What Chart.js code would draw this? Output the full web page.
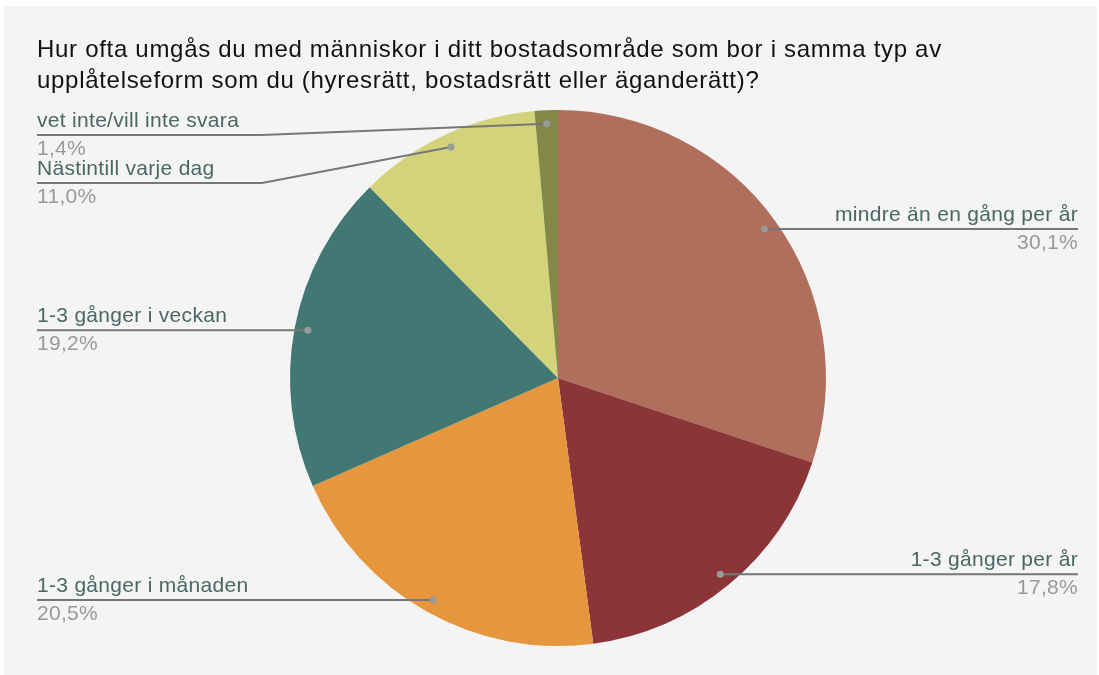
<!DOCTYPE html>
<html lang="sv">
<head>
<meta charset="utf-8">
<script src="https://cdn.jsdelivr.net/npm/chart.js@4/dist/chart.umd.min.js"></script>
<style>
    html, body { margin: 0; padding: 0; background: #ffffff; }
    #panel {
        position: absolute; left: 4px; top: 6px; width: 1093px; height: 669px;
        background: #f4f4f4;
    }
    #wrap { position: absolute; left: 0; top: 0; width: 1099px; height: 675px; }
</style>
</head>
<body>
<div id="panel"></div>
<div id="wrap"><canvas id="pieChart" width="1099" height="675"></canvas></div>
<script>
// Daten
const titleLines = [
    'Hur ofta umgås du med människor i ditt bostadsområde som bor i samma typ av',
    'upplåtelseform som du (hyresrätt, bostadsrätt eller äganderätt)?'
];
const categories = [
    'mindre än en gång per år',
    '1-3 gånger per år',
    '1-3 gånger i månaden',
    '1-3 gånger i veckan',
    'Nästintill varje dag',
    'vet inte/vill inte svara'
];
const shares = [30.1, 17.8, 20.5, 19.2, 11.0, 1.4];
const sliceColors = ['#af6f5c', '#8b3538', '#e6973d', '#417873', '#d2d37b', '#848846'];

// Label-Position: Linienhöhe nur dort, wo sie vom Punkt abweicht
const labelLineY = [null, null, null, null, 183, 135];

// Labels mit Führungslinien
const labelPlugin = {
    id: 'pieLabels',
    afterDraw(chart) {
        const ctx = chart.ctx;
        const meta = chart.getDatasetMeta(0);

        // Titel
        ctx.save();
        ctx.fillStyle = '#111111';
        ctx.font = '24px "Liberation Sans", Arial, sans-serif';
        ctx.letterSpacing = '0.7px';
        ctx.textBaseline = 'alphabetic';
        ctx.textAlign = 'left';
        ctx.fillText(titleLines[0], 37, 57);
        ctx.fillText(titleLines[1], 37, 88);

        meta.data.forEach((arc, i) => {
            const p = arc.getProps(['x', 'y', 'startAngle', 'endAngle', 'outerRadius'], true);
            const mid = (p.startAngle + p.endAngle) / 2;
            const r = p.outerRadius * 0.95;
            const dx = p.x + Math.cos(mid) * r;
            const dy = p.y + Math.sin(mid) * r;
            const right = dx > p.x;
            const lineY = labelLineY[i] !== null ? labelLineY[i] : dy;
            const edgeX = right ? 1078 : 37;

            // Linie
            ctx.strokeStyle = '#777777';
            ctx.lineWidth = 2;
            ctx.beginPath();
            ctx.moveTo(dx, dy);
            if (labelLineY[i] !== null) {
                ctx.lineTo(262, lineY);
            }
            ctx.lineTo(edgeX, lineY);
            ctx.stroke();

            // Punkt
            ctx.fillStyle = '#999999';
            ctx.beginPath();
            ctx.arc(dx, dy, 3.5, 0, Math.PI * 2);
            ctx.fill();

            // Texte
            ctx.textAlign = right ? 'right' : 'left';
            ctx.font = '21px "Liberation Sans", Arial, sans-serif';
            ctx.letterSpacing = '0.3px';
            ctx.fillStyle = '#4a6764';
            ctx.fillText(categories[i], edgeX, lineY - 8);
            ctx.fillStyle = '#999999';
            ctx.fillText(shares[i].toFixed(1).replace('.', ',') + '%', edgeX, lineY + 20);
        });
        ctx.restore();
    }
};

new Chart(document.getElementById('pieChart'), {
    type: 'pie',
    data: {
        labels: categories,
        datasets: [{
            data: shares,
            backgroundColor: sliceColors,
            borderWidth: 0
        }]
    },
    options: {
        responsive: false,
        animation: false,
        layout: {
            padding: { top: 110, bottom: 29, left: 290, right: 273 }
        },
        plugins: {
            legend: { display: false },
            tooltip: { enabled: false }
        }
    },
    plugins: [labelPlugin]
});
</script>
</body>
</html>
